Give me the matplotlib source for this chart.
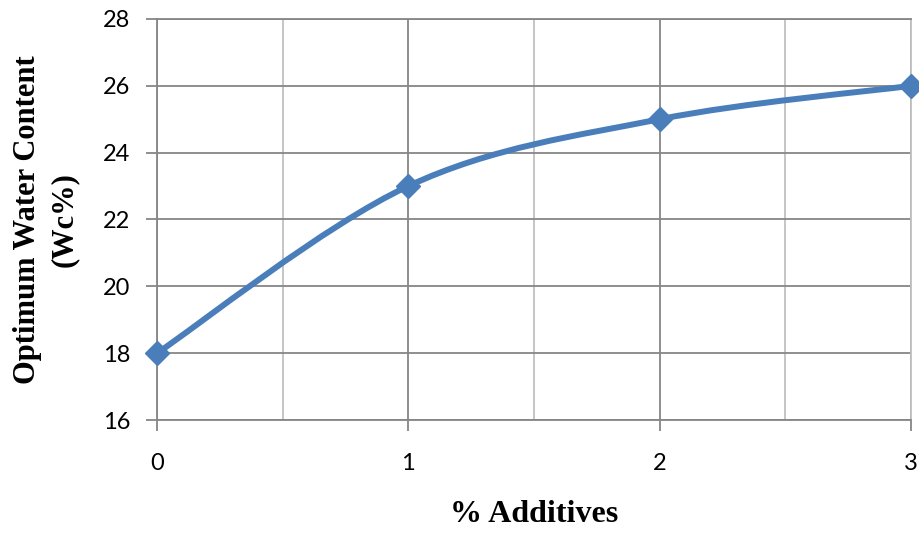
import numpy as np
import matplotlib.pyplot as plt
from matplotlib.path import Path
from matplotlib.patches import PathPatch

# data
additives = [0, 1, 2, 3]
water_content = [18, 23, 25, 26]

x_ticks = [0, 1, 2, 3]
y_ticks = [16, 18, 20, 22, 24, 26, 28]

line_color = "#4a7ebb"
dark_grid = "#868686"
light_grid = "#c0c0c0"


def smooth_path(xs, ys):
    # excel style smoothed line: cubic bezier through each point
    pts = np.column_stack([xs, ys]).astype(float)
    n = len(pts)
    verts = [pts[0]]
    codes = [Path.MOVETO]
    for i in range(n - 1):
        p_prev = pts[max(i - 1, 0)]
        p0 = pts[i]
        p1 = pts[i + 1]
        p_next = pts[min(i + 2, n - 1)]
        c1 = p0 + (p1 - p_prev) / 6.0
        c2 = p1 - (p_next - p0) / 6.0
        verts += [c1, c2, p1]
        codes += [Path.CURVE4] * 3
    return Path(verts, codes)


fig = plt.figure(figsize=(9.19, 5.33), dpi=100)
ax = fig.add_axes([0.1708, 0.2120, 0.8205, 0.7524])

ax.set_xlim(0, 3)
ax.set_ylim(16, 28)
ax.set_xticks(x_ticks)
ax.set_xticks([0.5, 1.5, 2.5], minor=True)
ax.set_yticks(y_ticks)

# gridlines
ax.grid(True, which="major", axis="both", color=dark_grid, linewidth=1.3)
ax.grid(True, which="minor", axis="x", color=light_grid, linewidth=1.3)
ax.set_axisbelow(True)

for side in ["left", "bottom", "top"]:
    ax.spines[side].set_color(dark_grid)
    ax.spines[side].set_linewidth(1.3)
ax.spines["right"].set_color(light_grid)
ax.spines["right"].set_linewidth(1.3)

ax.tick_params(axis="both", which="major", color=dark_grid, width=1.3, length=8,
               labelsize=17, labelcolor="black")
ax.tick_params(axis="x", which="major", pad=16)
ax.tick_params(axis="y", which="major", pad=11)
ax.tick_params(axis="x", which="minor", length=0)
for lbl in ax.get_xticklabels() + ax.get_yticklabels():
    lbl.set_family("Lato")

patch = PathPatch(smooth_path(additives, water_content), fill=False,
                  edgecolor=line_color, linewidth=4.3, capstyle="round",
                  joinstyle="round", zorder=3, clip_on=False)
ax.add_patch(patch)
ax.plot(additives, water_content, linestyle="none", marker="D", markersize=12,
        color=line_color, zorder=4, clip_on=False)

ax.set_xlabel("% Additives", fontsize=23, fontweight="bold",
              family="Liberation Serif")
ax.xaxis.set_label_coords(0.5, -0.2)
ax.set_ylabel("Optimum Water Content\n(Wc%)", fontsize=22, fontweight="bold",
              family="Liberation Serif", linespacing=1.35)
ax.yaxis.set_label_coords(-0.104, 0.5)

plt.savefig("out.png", dpi=100)
